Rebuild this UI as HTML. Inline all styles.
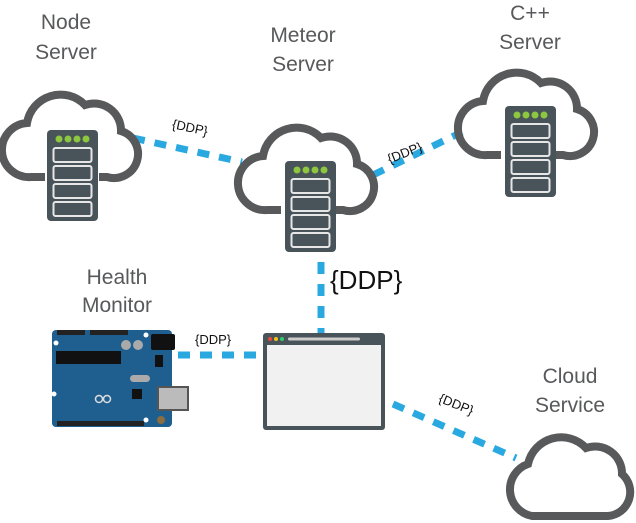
<!DOCTYPE html>
<html><head><meta charset="utf-8"><style>
html,body{margin:0;padding:0;background:#fff;width:636px;height:523px;overflow:hidden}
svg{display:block}
text{font-family:"Liberation Sans",sans-serif}
</style></head><body>
<svg width="636" height="523" viewBox="0 0 636 523" xmlns="http://www.w3.org/2000/svg">
<defs>
<g id="cloud">
<path d="M42,92 H28 A27,27 0 0 1 24,38 A34,34 0 0 1 82,20 A27,27 0 0 1 118,46 A24,24 0 0 1 104,92 H96" fill="none" stroke="#58595b" stroke-width="8"/>
</g>
<g id="server">
<rect x="0" y="0" width="51" height="91" rx="4" fill="#48545a"/>
<circle cx="12" cy="9" r="3.5" fill="#8dc63f"/><circle cx="21" cy="9" r="3.5" fill="#8dc63f"/><circle cx="30" cy="9" r="3.5" fill="#8dc63f"/><circle cx="39" cy="9" r="3.5" fill="#8dc63f"/>
<rect x="6.5" y="18" width="38" height="14" rx="2" fill="none" stroke="#e6e6e6" stroke-width="2"/>
<rect x="6.5" y="36" width="38" height="14" rx="2" fill="none" stroke="#e6e6e6" stroke-width="2"/>
<rect x="6.5" y="54" width="38" height="14" rx="2" fill="none" stroke="#e6e6e6" stroke-width="2"/>
<rect x="6.5" y="72" width="38" height="14" rx="2" fill="none" stroke="#e6e6e6" stroke-width="2"/>
</g>
</defs>

<!-- connectors -->
<g stroke="#29a9e0" stroke-width="7" stroke-dasharray="12 10" fill="none">
<line x1="133" y1="138" x2="242" y2="162"/>
<line x1="373" y1="175" x2="462" y2="132"/>
<line x1="321" y1="262" x2="321" y2="334"/>
<line x1="178" y1="355" x2="263" y2="355"/>
<line x1="393" y1="404" x2="516" y2="458"/>
</g>

<!-- clouds -->
<use href="#cloud" x="3" y="85"/>
<use href="#server" x="47" y="130"/>
<use href="#cloud" x="239" y="118"/>
<use href="#server" x="285" y="161"/>
<use href="#cloud" x="459" y="63"/>
<use href="#server" x="505" y="106"/>
<g transform="translate(504,428)">
<path d="M42,88 H28 A27,27 0 0 1 24,36 A34,34 0 0 1 82,20 A27,27 0 0 1 118,46 A24,24 0 0 1 104,88 Z" fill="none" stroke="#58595b" stroke-width="8"/>
</g>

<!-- browser -->
<rect x="263" y="333" width="122" height="97" rx="3" fill="#48545a"/>
<rect x="267" y="345" width="114" height="81" fill="#f1f1f1"/>
<circle cx="270" cy="339" r="2" fill="#e74c3c"/><circle cx="276" cy="339" r="2" fill="#f1c40f"/><circle cx="282" cy="339" r="2" fill="#2ecc71"/>
<rect x="288" y="337.5" width="72" height="3" rx="1.5" fill="#ccc"/>

<!-- arduino -->
<g>
<rect x="52" y="330" width="120" height="97" rx="4" fill="#1f5f8f"/>
<rect x="57" y="330" width="28" height="5" fill="#222"/>
<rect x="90" y="330" width="38" height="5" fill="#222"/>
<rect x="57" y="421" width="87" height="5" fill="#222"/>
<rect x="56" y="351" width="65" height="13" fill="#111"/>
<circle cx="126" cy="345" r="5" fill="#aaa"/><circle cx="138" cy="345" r="5" fill="#aaa"/>
<rect x="151" y="334" width="24" height="16" rx="2" fill="#111"/>
<rect x="155" y="355" width="8" height="12" fill="#111"/>
<rect x="157" y="386" width="32" height="25" fill="#555"/>
<rect x="159" y="388" width="28" height="21" fill="#bbb"/>
<rect x="130" y="375" width="20" height="7" rx="3.5" fill="#aaa"/>
<rect x="132" y="389" width="10" height="10" fill="#111"/>
<circle cx="161" cy="420" r="4" fill="#8b6d3f"/>
<circle cx="99" cy="399" r="3.5" fill="none" stroke="#ddd" stroke-width="1.5"/>
<circle cx="107" cy="399" r="3.5" fill="none" stroke="#ddd" stroke-width="1.5"/>
<circle cx="56" cy="343" r="2.5" fill="#fff"/><circle cx="54" cy="394" r="2.5" fill="#fff"/><circle cx="146" cy="335" r="2.5" fill="#fff"/><circle cx="146" cy="420" r="2.5" fill="#fff"/>
</g>

<!-- labels -->
<g fill="#58595b" font-size="21" text-anchor="middle">
<text x="66" y="29">Node</text><text x="66" y="59">Server</text>
<text x="303" y="42">Meteor</text><text x="303" y="71">Server</text>
<text x="530" y="20">C++</text><text x="530" y="49">Server</text>
<text x="117" y="284">Health</text><text x="117" y="312">Monitor</text>
<text x="570" y="383">Cloud</text><text x="570" y="412">Service</text>
</g>
<g fill="#111" font-size="13">
<text x="172" y="133" transform="rotate(12 195 128)">{DDP}</text>
<text x="385" y="156" transform="rotate(-22 407 148)">{DDP}</text>
<text x="195" y="344">{DDP}</text>
<text x="437" y="410" transform="rotate(22 459 408)">{DDP}</text>
<text x="330" y="289" font-size="26">{DDP}</text>
</g>
</svg>
</body></html>
